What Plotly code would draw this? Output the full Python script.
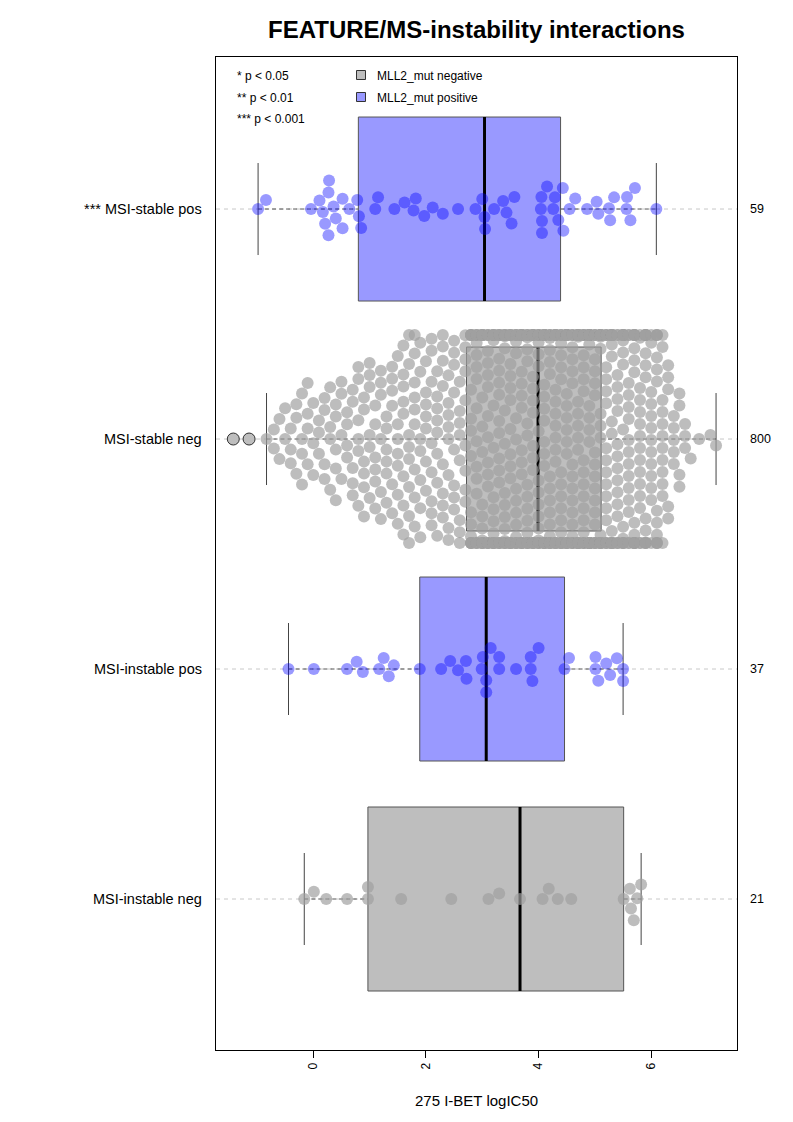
import numpy as np
import plotly.graph_objects as go

# ---------------- data ----------------
categories = ["MSI-instable neg", "MSI-instable pos", "MSI-stable neg", "MSI-stable pos"]
significance = ["", "", "", "***"]
mll2_status = ["negative", "positive", "negative", "positive"]

instable_neg = [-0.16, 0.01, 0.23, 0.60, 0.97, 0.97, 1.56, 2.45, 3.11, 3.30, 3.67,
                4.07, 4.18, 4.34, 4.58, 5.51, 5.62, 5.64, 5.69, 5.75, 5.82]

instable_pos = [-0.44, 0.01, 0.60, 0.77, 0.88, 1.17, 1.25, 1.34, 1.43, 1.89, 2.27,
                2.43, 2.57, 2.71, 2.72, 2.99, 3.01, 3.07, 3.07, 3.15, 3.30, 3.30,
                3.60, 3.86, 3.86, 3.89, 4.00, 4.46, 4.54, 5.01, 5.01, 5.06, 5.20,
                5.27, 5.39, 5.50, 5.50]

stable_pos = [-0.98, -0.84, -0.04, 0.11, 0.17, 0.21, 0.27, 0.27, 0.28, 0.36, 0.40,
              0.52, 0.52, 0.64, 0.78, 0.81, 0.85, 1.10, 1.15, 1.44, 1.62, 1.78,
              1.82, 1.97, 2.12, 2.30, 2.57, 2.88, 3.00, 3.04, 3.05, 3.21, 3.37,
              3.43, 3.52, 3.57, 4.04, 4.05, 4.06, 4.06, 4.15, 4.26, 4.29, 4.35,
              4.43, 4.44, 4.55, 4.65, 4.86, 5.03, 5.06, 5.25, 5.27, 5.34, 5.56,
              5.57, 5.63, 5.71, 6.09]

# MSI-stable neg (800 cell lines) read as value columns with point counts
stable_neg_values = [-1.42, -1.14, -0.83, -0.7, -0.6, -0.5, -0.4, -0.3, -0.2, -0.1,
                     0.0, 0.1, 0.2, 0.3, 0.4, 0.5, 0.6, 0.7, 0.8, 0.9,
                     1.0, 1.1, 1.2, 1.3, 1.4, 1.5, 1.6, 1.7, 1.8, 1.9,
                     2.0, 2.1, 2.2, 2.3, 2.4, 2.5, 2.6, 2.7, 2.8, 2.9,
                     3.0, 3.1, 3.2, 3.3, 3.4, 3.5, 3.6, 3.7, 3.8, 3.9,
                     4.0, 4.1, 4.2, 4.3, 4.4, 4.5, 4.6, 4.7, 4.8, 4.9,
                     5.0, 5.1, 5.2, 5.3, 5.4, 5.5, 5.6, 5.7, 5.8, 5.9,
                     6.0, 6.1, 6.2, 6.3, 6.4, 6.5, 6.6, 6.7, 6.85, 7.05, 7.15]
stable_neg_counts = [1, 1, 1, 2, 2, 2, 3, 3, 4, 4,
                     3, 3, 4, 4, 5, 4, 4, 5, 6, 6,
                     6, 6, 6, 6, 6, 7, 8, 8, 9, 7,
                     7, 8, 8, 8, 8, 8, 8, 9, 15, 15,
                     16, 16, 17, 17, 17, 17, 17, 18, 17, 18,
                     18, 18, 18, 18, 18, 18, 18, 18, 19, 19,
                     18, 17, 17, 17, 16, 16, 15, 15, 15, 14,
                     13, 12, 12, 5, 5, 4, 3, 1, 1, 1, 1]

# box statistics (bottom to top)
box_q1 = [0.97, 1.89, 2.72, 0.80]
box_median = [3.67, 3.07, 3.99, 3.04]
box_q3 = [5.51, 4.46, 5.11, 4.39]
box_lower = [-0.16, -0.44, -0.83, -0.98]
box_upper = [5.82, 5.50, 7.15, 6.09]

x_ticks = [0, 2, 4, 6]
title_text = "FEATURE/MS-instability interactions"
x_title = "275 I-BET logIC50"
sig_legend = ["* p < 0.05", "** p < 0.01", "*** p < 0.001"]
group_legend = ["MLL2_mut negative", "MLL2_mut positive"]

# ---------------- layout geometry ----------------
OFF = 8                      # page body margin of the html page
W, H = 793 - 2 * OFF, 1122 - 2 * OFF
L, R, T, B = 216 - OFF, 737 - OFF, 57 - OFF, 1050 - OFF
XR = [-1.727, 7.522]
YR = [0.3435, 4.661]
px_per_x = (R - L) / (XR[1] - XR[0])
px_per_y = (B - T) / (YR[1] - YR[0])

FONT = "Liberation Sans, Arial, Helvetica, sans-serif"
fill_col = {"negative": "#BEBEBE", "positive": "#9999FF"}
pt_col = {"negative": "rgba(160,160,160,0.69)", "positive": "rgba(0,0,255,0.4)"}

D = 12.0          # point diameter / swarm spacing (px)
GUTTER = 104.0    # corral half width (px)


def swarm(values):
    vals = np.asarray(values, dtype=float)
    order = np.argsort(vals, kind="stable")
    xs = vals[order] * px_per_x
    px_l, py_l = [], []
    out = np.zeros(len(xs))
    for i, x in enumerate(xs):
        if px_l:
            pxa = np.array(px_l)
            pya = np.array(py_l)
            m = np.abs(pxa - x) < D
            nx, ny = pxa[m], pya[m]
        else:
            nx = ny = np.array([])
        if len(nx) == 0:
            y = 0.0
        else:
            dy = np.sqrt(np.maximum(D ** 2 - (nx - x) ** 2, 0))
            cands = np.concatenate([[0.0], ny + dy, ny - dy])
            dist2 = (cands[:, None] - ny[None, :]) ** 2 + (x - nx[None, :]) ** 2
            ok = np.all(dist2 >= D ** 2 - 1e-6, axis=1)
            c = cands[ok]
            y = c[np.argmin(np.abs(c))]
        px_l.append(x)
        py_l.append(y)
        out[order[i]] = y
    out = np.where(np.abs(out) > GUTTER, np.sign(out) * GUTTER, out)
    return out / px_per_y


stable_neg = np.repeat(stable_neg_values, stable_neg_counts)
groups = [np.asarray(instable_neg), np.asarray(instable_pos), stable_neg, np.asarray(stable_pos)]

fig = go.Figure()
shapes = []
annotations = []

for i, cat in enumerate(categories):
    pos = i + 1
    status = mll2_status[i]
    # light dashed reference line
    shapes.append(dict(type="line", xref="paper", x0=0, x1=1, yref="y", y0=pos, y1=pos,
                       line=dict(color="#C8C8C8", width=1, dash="4px,4px"), layer="below"))
    # whiskers
    for a, b in [(box_lower[i], box_q1[i]), (box_q3[i], box_upper[i])]:
        shapes.append(dict(type="line", x0=a, x1=b, y0=pos, y1=pos,
                           line=dict(color="#555555", width=1, dash="4px,3px"), layer="below"))
    for w in [box_lower[i], box_upper[i]]:
        shapes.append(dict(type="line", x0=w, x1=w, y0=pos - 0.2, y1=pos + 0.2,
                           line=dict(color="#444444", width=1), layer="below"))
    # box
    shapes.append(dict(type="rect", x0=box_q1[i], x1=box_q3[i], y0=pos - 0.4, y1=pos + 0.4,
                       fillcolor=fill_col[status], line=dict(color="#555555", width=1),
                       layer="below"))
    shapes.append(dict(type="line", x0=box_median[i], x1=box_median[i],
                       y0=pos - 0.4, y1=pos + 0.4,
                       line=dict(color="black", width=3), layer="below"))

    vals = groups[i]
    offs = swarm(vals)
    fig.add_trace(go.Scatter(x=vals, y=pos + offs, mode="markers", showlegend=False,
                             hoverinfo="skip",
                             marker=dict(size=D, color=pt_col[status], line=dict(width=0))))
    outl = vals[(vals < box_lower[i]) | (vals > box_upper[i])]
    if len(outl):
        fig.add_trace(go.Scatter(x=outl, y=[pos] * len(outl), mode="markers", showlegend=False,
                                 hoverinfo="skip",
                                 marker=dict(size=D, color=fill_col[status],
                                             line=dict(color="#333333", width=1))))

    label = (significance[i] + " " + cat).strip()
    annotations.append(dict(text=label, xref="paper", x=0, xshift=-12, xanchor="right",
                            yref="y", y=pos, yanchor="middle", showarrow=False,
                            font=dict(size=14.5, color="black", family=FONT)))
    annotations.append(dict(text=str(len(vals)), xref="paper", x=1, xshift=11, xanchor="left",
                            yref="y", y=pos, yanchor="middle", showarrow=False,
                            font=dict(size=12.5, color="black", family=FONT)))


def pxx(px):
    """reference page x pixel -> paper fraction"""
    return (px - OFF - L) / (R - L)


def pxy(py):
    """reference page y pixel -> paper fraction"""
    return 1 - (py - OFF - T) / (B - T)


# significance legend
for k, t in enumerate(sig_legend):
    annotations.append(dict(text=t, xref="paper", x=pxx(235), xanchor="left",
                            yref="paper", y=pxy(76 + 21.5 * k), yanchor="middle",
                            showarrow=False, font=dict(size=12, color="black", family=FONT)))
# group legend
for k, (t, st) in enumerate(zip(group_legend, ["negative", "positive"])):
    cy = 75 + 22 * k
    shapes.append(dict(type="rect", xref="paper", yref="paper",
                       x0=pxx(356.5), x1=pxx(365.5), y0=pxy(cy + 4.5), y1=pxy(cy - 4.5),
                       fillcolor=fill_col[st], line=dict(color="#333333", width=1)))
    annotations.append(dict(text=t, xref="paper", x=pxx(375), xanchor="left",
                            yref="paper", y=pxy(cy + 1), yanchor="middle",
                            showarrow=False, font=dict(size=12, color="black", family=FONT)))

# title and x-axis title
annotations.append(dict(text="<b>" + title_text + "</b>", xref="paper", x=0.5, xanchor="center",
                        yref="paper", y=pxy(30), yanchor="middle", showarrow=False,
                        font=dict(size=24, color="black", family=FONT)))
annotations.append(dict(text=x_title, xref="paper", x=0.5, xanchor="center",
                        yref="paper", y=pxy(1100), yanchor="middle", showarrow=False,
                        font=dict(size=15, color="black", family=FONT)))

fig.update_layout(
    width=W, height=H, autosize=False,
    margin=dict(l=L, r=W - R, t=T, b=H - B, pad=0),
    paper_bgcolor="white", plot_bgcolor="white",
    showlegend=False,
    shapes=shapes, annotations=annotations,
    xaxis=dict(range=XR, tickmode="array", tickvals=x_ticks, ticktext=[str(v) for v in x_ticks],
               tickangle=-90, ticks="outside", ticklen=7, tickcolor="black", tickwidth=1,
               tickfont=dict(size=12, color="black", family=FONT),
               showgrid=False, zeroline=False, showline=True, mirror=True,
               linecolor="black", linewidth=1),
    yaxis=dict(range=YR, showticklabels=False, ticks="", showgrid=False, zeroline=False,
               showline=True, mirror=True, linecolor="black", linewidth=1),
)

fig.write_html("out.html")
